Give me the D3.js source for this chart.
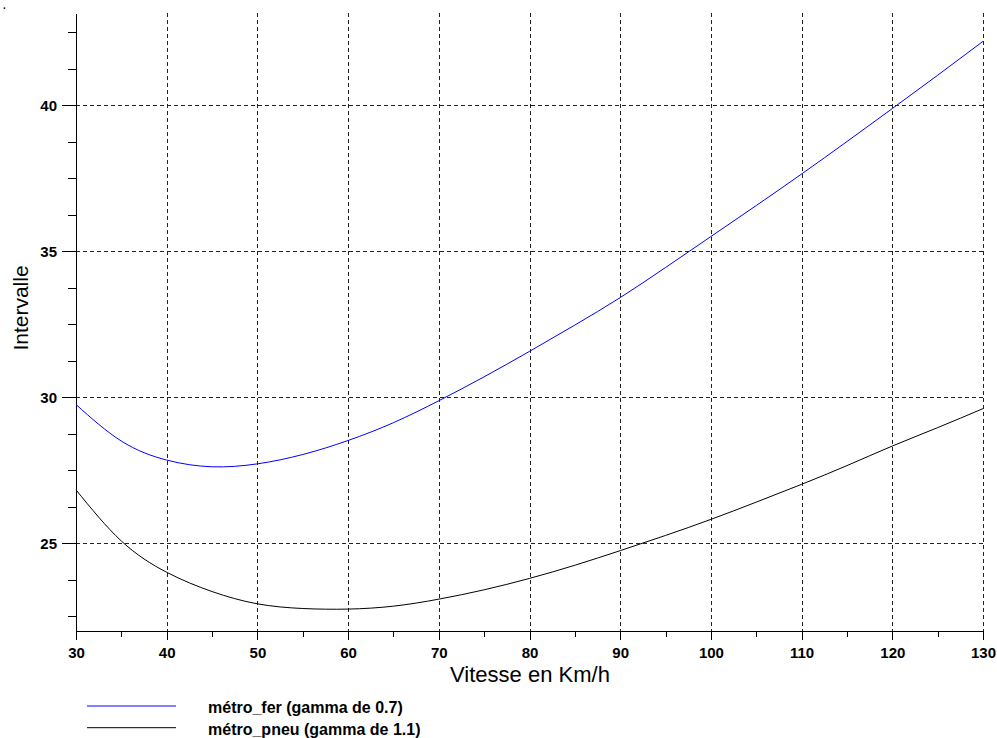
<!DOCTYPE html>
<html>
<head>
<meta charset="utf-8">
<script src="https://cdn.jsdelivr.net/npm/d3@7"></script>
<style>
  body { margin: 0; background: #fff; }
  svg { display: block; font-family: "Liberation Sans", Arial, sans-serif; }
  .grid line { stroke: #222; stroke-dasharray: 4,3; shape-rendering: crispEdges; }
  .axis path, .axis line { stroke: #000; shape-rendering: crispEdges; }
  .axis text { font-size: 15px; font-weight: bold; fill: #000; }
</style>
</head>
<body>
<svg id="chart" width="997" height="738"></svg>
<script>
// speeds in km/h
var speeds = [30, 35, 40, 45, 50, 55, 60, 65, 70, 75, 80, 85, 90, 95, 100, 105, 110, 115, 120, 125, 130];
// interval, métro fer (gamma 0.7)
var fer = [29.75, 28.5, 27.85, 27.62, 27.72, 28.04, 28.52, 29.13, 29.88, 30.70, 31.57, 32.47, 33.41, 34.44, 35.50, 36.56, 37.64, 38.75, 39.88, 41.02, 42.18];
// interval, métro pneu (gamma 1.1)
var pneu = [26.83, 25.08, 24.01, 23.35, 22.93, 22.77, 22.75, 22.85, 23.09, 23.41, 23.80, 24.25, 24.75, 25.27, 25.82, 26.41, 27.02, 27.66, 28.33, 28.96, 29.61];

var xMajor = [30, 40, 50, 60, 70, 80, 90, 100, 110, 120, 130];
var xMinor = [35, 45, 55, 65, 75, 85, 95, 105, 115, 125];
var yMajor = [25, 30, 35, 40];
var yMinor = [22.5, 23.75, 26.25, 27.5, 28.75, 31.25, 32.5, 33.75, 36.25, 37.5, 38.75, 41.25, 42.5];

var seriesNames = ["métro_fer (gamma de 0.7)", "métro_pneu (gamma de 1.1)"];
var seriesColors = ["#0000ff", "#000000"];

var svg = d3.select("#chart");

var x = d3.scaleLinear().domain([30, 130]).range([76, 983]);
var y = d3.scaleLinear().domain([22, 43.15]).range([631, 13]);

// small title dot
svg.append("text")
    .attr("x", 3)
    .attr("y", 9)
    .style("font-size", "10px")
    .style("font-weight", "bold")
    .text(".");

// grid
var grid = svg.append("g").attr("class", "grid");
grid.selectAll(".vx")
    .data(xMajor.slice(1))
  .enter().append("line")
    .attr("x1", d => Math.round(x(d)) + 0.5)
    .attr("x2", d => Math.round(x(d)) + 0.5)
    .attr("y1", y.range()[1])
    .attr("y2", y.range()[0]);
grid.selectAll(".hy")
    .data(yMajor)
  .enter().append("line")
    .attr("x1", x.range()[0])
    .attr("x2", x.range()[1])
    .attr("y1", d => Math.round(y(d)) + 0.5)
    .attr("y2", d => Math.round(y(d)) + 0.5);

// x axis
svg.append("g")
    .attr("class", "axis")
    .attr("transform", "translate(0,631)")
    .call(d3.axisBottom(x).tickValues(xMinor).tickSize(6).tickFormat(""))
    .call(g => g.select(".domain").remove());

svg.append("g")
    .attr("class", "axis")
    .attr("transform", "translate(0,631)")
    .call(d3.axisBottom(x).tickValues(xMajor).tickSize(9).tickSizeOuter(0).tickFormat(d3.format("d")))
    .call(g => g.selectAll("text").attr("y", 27).attr("dy", 0));

// y axis
svg.append("g")
    .attr("class", "axis")
    .attr("transform", "translate(76,0)")
    .call(d3.axisLeft(y).tickValues(yMinor).tickSize(8).tickFormat(""))
    .call(g => g.select(".domain").remove());

svg.append("g")
    .attr("class", "axis")
    .attr("transform", "translate(76,0)")
    .call(d3.axisLeft(y).tickValues(yMajor).tickSize(14).tickSizeOuter(0).tickFormat(d3.format("d")))
    .call(g => g.selectAll("text").attr("x", -19).attr("dy", "0.36em"));

// axis titles
svg.append("text")
    .attr("x", 530)
    .attr("y", 682)
    .attr("text-anchor", "middle")
    .style("font-size", "22px")
    .text("Vitesse en Km/h");

svg.append("text")
    .attr("transform", "translate(28,308) rotate(-90)")
    .attr("text-anchor", "middle")
    .style("font-size", "21px")
    .text("Intervalle");

// curves
var line = d3.line()
    .x(d => x(d[0]))
    .y(d => y(d[1]))
    .curve(d3.curveNatural);

[fer, pneu].forEach(function(vals, i) {
  svg.append("path")
      .datum(speeds.map((s, j) => [s, vals[j]]))
      .attr("fill", "none")
      .attr("stroke", seriesColors[i])
      .attr("stroke-width", 1)
      .attr("d", line);
});

// legend
var legend = svg.append("g").attr("class", "legend");
seriesNames.forEach(function(name, i) {
  var ly = 706 + i * 21.7;
  legend.append("line")
      .attr("x1", 87).attr("x2", 176)
      .attr("y1", ly).attr("y2", ly)
      .attr("stroke", seriesColors[i])
      .attr("stroke-width", 1);
  legend.append("text")
      .attr("x", 208)
      .attr("y", ly + 7)
      .style("font-size", "16px")
      .style("font-weight", "bold")
      .text(name);
});
</script>
</body>
</html>
